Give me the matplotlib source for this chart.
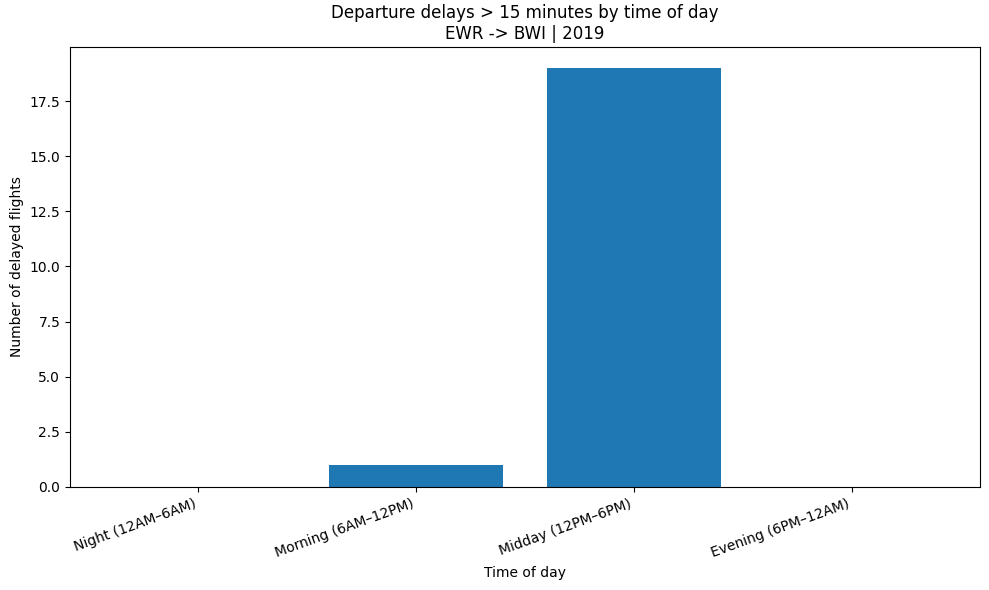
import matplotlib
matplotlib.use("Agg")
import matplotlib.pyplot as plt

periods = ["Night (12AM\u20136AM)", "Morning (6AM\u201312PM)",
           "Midday (12PM\u20136PM)", "Evening (6PM\u201312AM)"]
delayed = [0, 1, 19, 0]

fig, ax = plt.subplots(figsize=(9.89, 5.9), dpi=100)
ax.bar(periods, delayed, color="#1f77b4")
ax.set_title("Departure delays > 15 minutes by time of day\nEWR -> BWI | 2019")
ax.set_xlabel("Time of day")
ax.set_ylabel("Number of delayed flights")
plt.setp(ax.get_xticklabels(), rotation=20, ha="right")
fig.subplots_adjust(left=70 / 989, right=980 / 989, top=1 - 47 / 590, bottom=1 - 487 / 590)
fig.savefig("out.png", dpi=100)
